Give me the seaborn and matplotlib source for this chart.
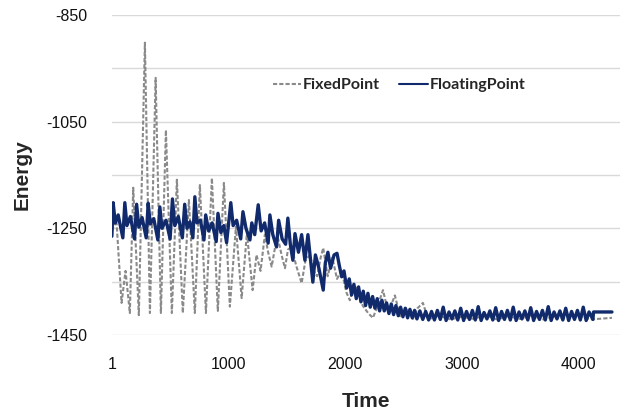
import matplotlib
matplotlib.use("Agg")
import matplotlib.pyplot as plt
import seaborn as sns

sns.set_style("white")
plt.rcParams['font.family'] = ['Liberation Sans', 'DejaVu Sans']

# FixedPoint series (grey, dashed) - peaks/troughs
fixed_time = [1, 40, 84, 118, 155, 184, 232, 284, 327, 376, 421, 464, 515, 558,
              609, 661, 712, 755, 807, 858, 909, 961, 1012, 1064, 1113, 1158,
              1207, 1240, 1275, 1312, 1340, 1370, 1400, 1426, 1455, 1484, 1510,
              1541, 1580, 1627, 1660, 1698, 1730, 1760, 1790, 1812, 1850,
              1890, 1930, 1970, 2010, 2040, 2075, 2109, 2150, 2200, 2238, 2280,
              2324, 2370, 2426, 2470, 2520, 2580, 2620, 2666, 2710, 2760]
fixed_energy = [-1255, -1235, -1390, -1330, -1409, -1174, -1413, -902, -1409,
                -968, -1409, -1066, -1409, -1159, -1409, -1197, -1409, -1169,
                -1409, -1156, -1405, -1165, -1397, -1247, -1381, -1259, -1366,
                -1300, -1330, -1262, -1295, -1322, -1285, -1270, -1300, -1325,
                -1290, -1285, -1320, -1353, -1310, -1300, -1330, -1340, -1305,
                -1287, -1340, -1305, -1345, -1330, -1370, -1385, -1360, -1362,
                -1395, -1410, -1418, -1395, -1366, -1408, -1376, -1415, -1400,
                -1420, -1400, -1390, -1420, -1418]
fixed_plateau_time = list(range(2800, 4101, 100)) + [4286]
fixed_plateau_energy = [-1414, -1421, -1416, -1420, -1413, -1421, -1415, -1420,
                        -1414, -1421, -1416, -1420, -1414, -1421, -1418]

# FloatingPoint series (navy, solid)
float_time = [1, 12, 30, 55, 95, 112, 130, 160, 195, 213, 232, 260, 295, 312,
              330, 360, 395, 412, 430, 465, 500, 520, 540, 570, 605, 625, 645,
              670, 695, 712, 730, 760, 790, 805, 830, 860, 895, 910, 935, 960,
              984, 1020, 1040, 1070, 1105, 1124, 1150, 1184, 1200, 1225, 1255,
              1280, 1310, 1340, 1355, 1380, 1412, 1430, 1460, 1490, 1509, 1530,
              1552, 1570, 1600, 1627, 1655, 1681, 1723, 1745, 1775, 1812, 1830,
              1852, 1875, 1905, 1930, 1950, 1970, 1990, 2013, 2035, 2055, 2075,
              2095, 2115, 2135, 2155, 2175, 2195, 2215, 2235, 2255, 2275, 2295,
              2315, 2335, 2355, 2375, 2395, 2415, 2435, 2455, 2475, 2495, 2515,
              2535, 2555, 2575, 2595, 2615, 2640, 2665, 2690, 2715]
float_energy = [-1265, -1202, -1240, -1225, -1268, -1202, -1245, -1228, -1270,
                -1205, -1248, -1230, -1268, -1203, -1242, -1232, -1272, -1210,
                -1250, -1235, -1270, -1195, -1245, -1228, -1268, -1205, -1250,
                -1238, -1268, -1191, -1240, -1235, -1272, -1225, -1255, -1240,
                -1275, -1222, -1258, -1245, -1277, -1202, -1245, -1235, -1270,
                -1219, -1250, -1272, -1240, -1262, -1206, -1255, -1240, -1278,
                -1225, -1262, -1285, -1235, -1270, -1280, -1231, -1280, -1310,
                -1260, -1295, -1262, -1310, -1262, -1351, -1300, -1325, -1366,
                -1315, -1295, -1325, -1300, -1297, -1320, -1341, -1330, -1362,
                -1345, -1375, -1355, -1382, -1360, -1388, -1368, -1395, -1372,
                -1398, -1378, -1400, -1382, -1405, -1385, -1405, -1390, -1410,
                -1392, -1412, -1395, -1414, -1398, -1416, -1400, -1418, -1402,
                -1418, -1404, -1420, -1405, -1421, -1406, -1422]
float_plateau_time = list(range(2740, 4115, 25)) + [4123, 4128, 4286]
float_plateau_energy = [-1406, -1422, -1404, -1421, -1398, -1423, -1407, -1420, -1405, -1422, -1400,
                        -1423, -1406, -1421, -1404, -1422, -1397, -1423, -1408, -1420, -1405, -1422,
                        -1399, -1423, -1406, -1421, -1404, -1422, -1398, -1423, -1407, -1420, -1405,
                        -1422, -1399, -1423, -1406, -1421, -1404, -1422, -1397, -1423, -1407, -1420,
                        -1405, -1422, -1400, -1423, -1406, -1421, -1404, -1422, -1398, -1423, -1407,
                        -1421, -1407, -1407]

y_ticks = [-1450, -1350, -1250, -1150, -1050, -950, -850]
y_labels = ['-1450', '', '-1250', '', '-1050', '', '-850']
x_ticks = [1, 1000, 2000, 3000, 4000]

fig = plt.figure(figsize=(6.25, 4.15), dpi=100)
ax = fig.add_axes([0.179, 0.193, 0.813, 0.771])

sns.lineplot(x=fixed_time + fixed_plateau_time, y=fixed_energy + fixed_plateau_energy,
             ax=ax, color='#8a8a8a', linewidth=1.5, linestyle=(0, (2.0, 1.0)),
             label='FixedPoint', sort=False)
sns.lineplot(x=float_time + float_plateau_time, y=float_energy + float_plateau_energy,
             ax=ax, color='#102a6c', linewidth=2.4, label='FloatingPoint', sort=False)

ax.set_xlim(1, 4355)
ax.set_ylim(-1450, -850)
ax.set_yticks(y_ticks)
ax.set_yticklabels(y_labels)
ax.set_xticks(x_ticks)
ax.set_xticklabels([str(t) for t in x_ticks])
ax.tick_params(length=0, labelsize=11.5, colors='#111111')
ax.tick_params(axis='y', pad=18)
ax.tick_params(axis='x', pad=16)
ax.grid(axis='y', color='#d9d9d9', linewidth=1)
ax.grid(axis='x', visible=False)
for s in ax.spines.values():
    s.set_visible(False)

ax.set_xlabel('Time', fontsize=15, fontweight='bold', labelpad=14)
ax.set_ylabel('Energy', fontsize=15, fontweight='bold', labelpad=10)

leg = ax.legend(loc='center', bbox_to_anchor=(0.565, 0.78), ncol=2, frameon=False,
                handlelength=1.8, handletextpad=0.1, columnspacing=1.2,
                prop={'family': 'Lato', 'weight': 'bold', 'size': 11.5})
for h in leg.get_lines():
    h.set_linewidth(1.5)

fig.savefig('out.png', dpi=100)
